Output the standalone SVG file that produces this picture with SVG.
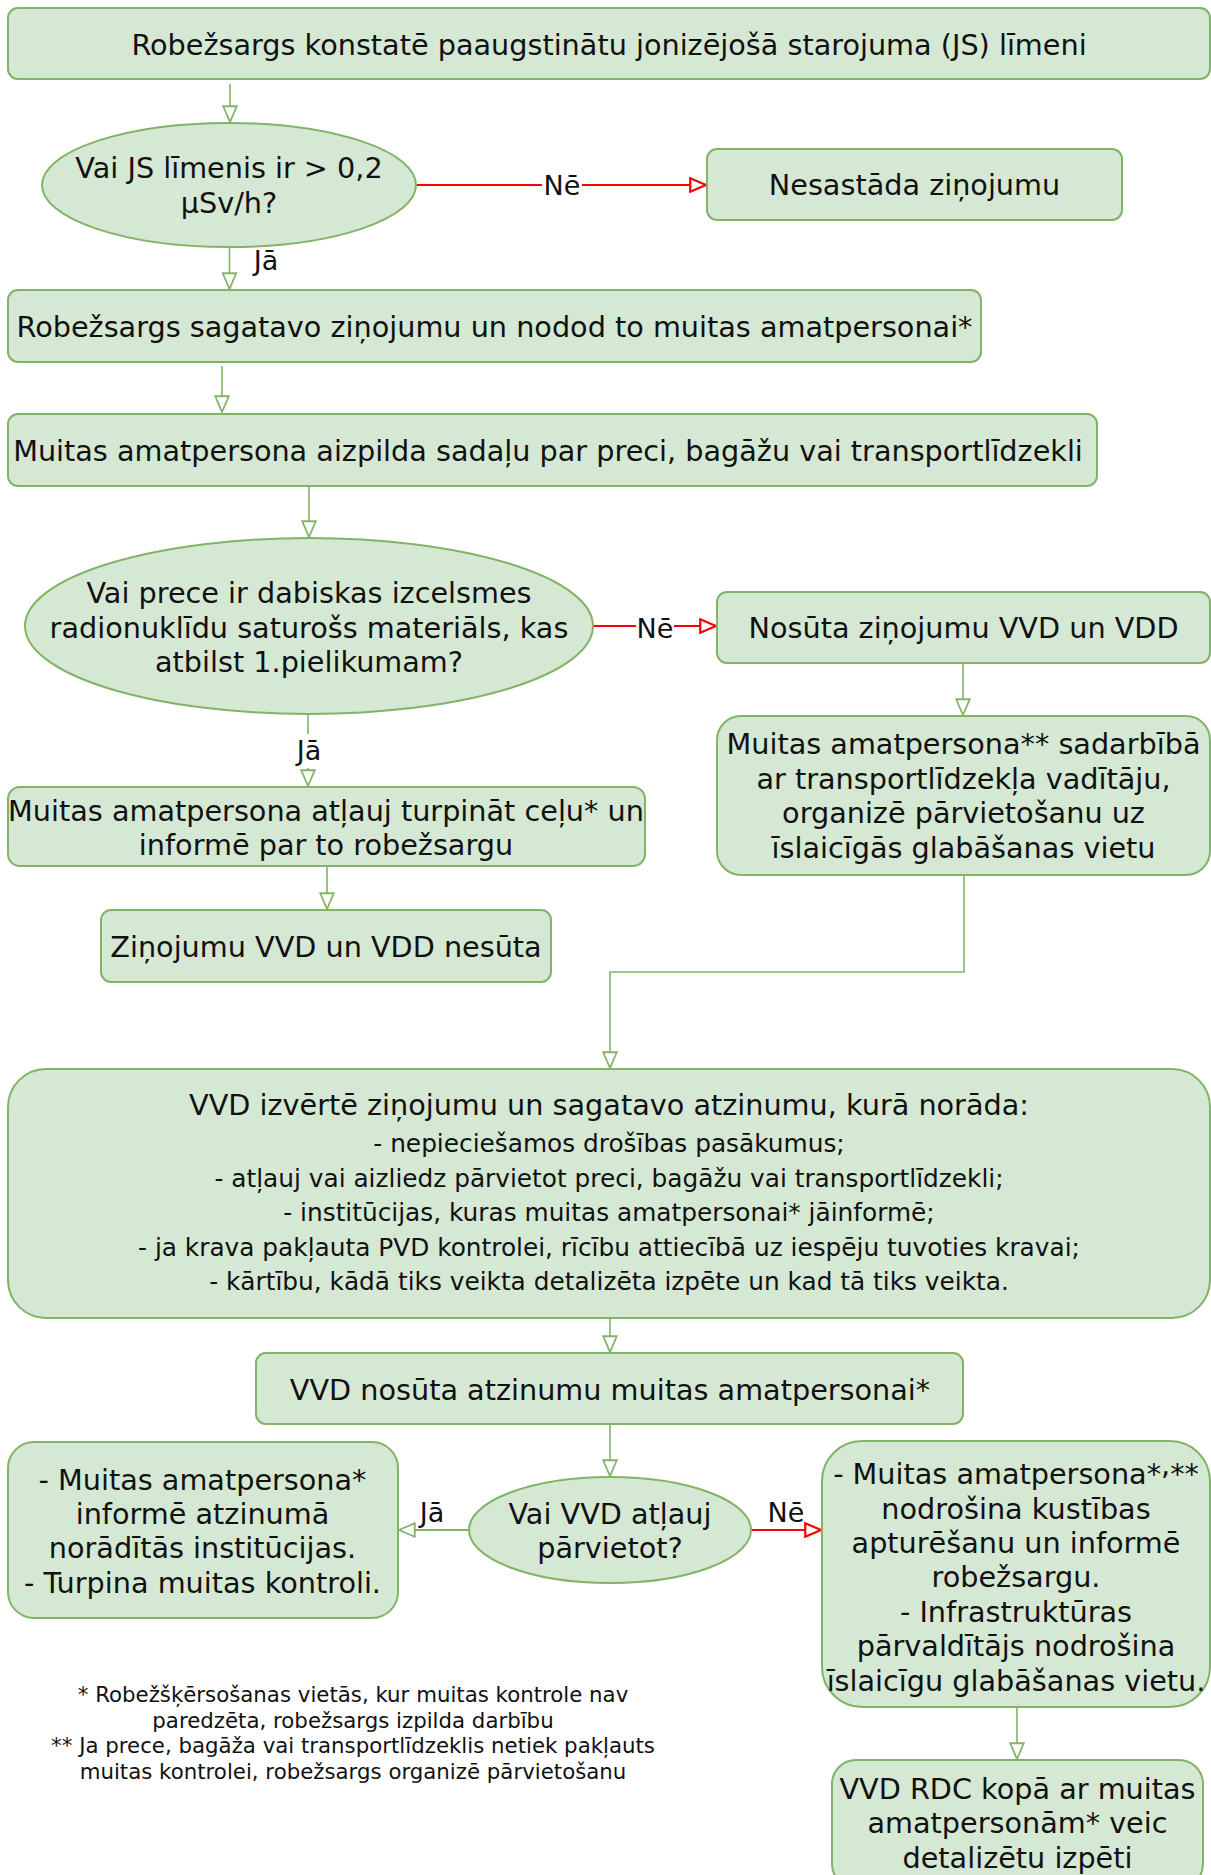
<svg xmlns="http://www.w3.org/2000/svg" width="1211" height="1875" viewBox="0 0 1211 1875">
<style>
.n{fill:#d5e8d4;stroke:#82b366;stroke-width:2}
.t{font-family:"DejaVu Sans",Verdana,sans-serif;font-size:28.7px;fill:#111;text-anchor:middle}
.s{font-size:24.8px}
.f{font-family:"DejaVu Sans",Verdana,sans-serif;font-size:21.3px;fill:#111;text-anchor:middle}
.l{font-family:"DejaVu Sans",Verdana,sans-serif;font-size:27px;fill:#111;text-anchor:middle}
.g{fill:none;stroke:#82b366;stroke-width:1.6}
.r{fill:none;stroke:#ff0000;stroke-width:2}
</style>
<defs>
<marker id="ag" markerUnits="userSpaceOnUse" markerWidth="18" markerHeight="16" viewBox="0 0 16 14" refX="15" refY="7" orient="auto"><path d="M1,1 L15,7 L1,13 z" fill="#fff" stroke="#82b366" stroke-width="1.6"/></marker>
<marker id="ar" markerUnits="userSpaceOnUse" markerWidth="18" markerHeight="16" viewBox="0 0 16 14" refX="15" refY="7" orient="auto"><path d="M1,1 L15,7 L1,13 z" fill="#fff" stroke="#ff0000" stroke-width="2"/></marker>
</defs>
<rect width="1211" height="1875" fill="#fff"/>
<g id="connectors">
<path class="g" d="M230 84 V122" marker-end="url(#ag)"/>
<path class="r" d="M415 185 H706" marker-end="url(#ar)"/>
<path class="g" d="M229.5 247 V289" marker-end="url(#ag)"/>
<path class="g" d="M222 366 V412" marker-end="url(#ag)"/>
<path class="g" d="M309 486 V537" marker-end="url(#ag)"/>
<path class="r" d="M593 626 H716" marker-end="url(#ar)"/>
<path class="g" d="M963 663 V715" marker-end="url(#ag)"/>
<path class="g" d="M308 715 V786" marker-end="url(#ag)"/>
<path class="g" d="M327 866 V909" marker-end="url(#ag)"/>
<path class="g" d="M964 875 V972 H610 V1068" marker-end="url(#ag)"/>
<path class="g" d="M610 1318 V1352" marker-end="url(#ag)"/>
<path class="g" d="M610 1424 V1476" marker-end="url(#ag)"/>
<path class="g" d="M469 1530 H399" marker-end="url(#ag)" style="stroke-width:2"/>
<path class="r" d="M751 1530 H821" marker-end="url(#ar)"/>
<path class="g" d="M1017 1707 V1759" marker-end="url(#ag)"/>
<rect x="542" y="170" width="40" height="32" fill="#fff"/>
<text class="l" x="562" y="195">Nē</text>
<text class="l" x="266" y="270">Jā</text>
<rect x="636" y="612" width="38" height="32" fill="#fff"/>
<text class="l" x="655" y="638">Nē</text>
<rect x="290" y="734" width="38" height="34" fill="#fff"/>
<text class="l" x="309" y="760">Jā</text>
<text class="l" x="432" y="1522">Jā</text>
<text class="l" x="786" y="1522">Nē</text>
</g>
<g id="n1"><rect class="n" x="8" y="8" width="1202" height="71" rx="10"/><text class="t" x="609" y="55">Robežsargs konstatē paaugstinātu jonizējošā starojuma (JS) līmeni</text></g>
<g id="n2"><ellipse class="n" cx="229" cy="185" rx="187" ry="62"/><text class="t" x="229" y="178">Vai JS līmenis ir &gt; 0,2</text><text class="t" x="229" y="213">µSv/h?</text></g>
<g id="n3"><rect class="n" x="707" y="149" width="415" height="71" rx="10"/><text class="t" x="914.5" y="195">Nesastāda ziņojumu</text></g>
<g id="n4"><rect class="n" x="8" y="290" width="973" height="72" rx="10"/><text class="t" x="494.5" y="337">Robežsargs sagatavo ziņojumu un nodod to muitas amatpersonai*</text></g>
<g id="n5"><rect class="n" x="8" y="414" width="1089" height="72" rx="10"/><text class="t" x="548" y="461">Muitas amatpersona aizpilda sadaļu par preci, bagāžu vai transportlīdzekli</text></g>
<g id="n6"><ellipse class="n" cx="309" cy="626" rx="284" ry="88"/><text class="t" x="309" y="603">Vai prece ir dabiskas izcelsmes</text><text class="t" x="309" y="637.5">radionuklīdu saturošs materiāls, kas</text><text class="t" x="309" y="672">atbilst 1.pielikumam?</text></g>
<g id="n7"><rect class="n" x="717" y="592" width="493" height="71" rx="10"/><text class="t" x="963.5" y="638">Nosūta ziņojumu VVD un VDD</text></g>
<g id="n8"><rect class="n" x="717" y="716" width="493" height="159" rx="24"/><text class="t" x="963.5" y="754">Muitas amatpersona** sadarbībā</text><text class="t" x="963.5" y="788.5">ar transportlīdzekļa vadītāju,</text><text class="t" x="963.5" y="823">organizē pārvietošanu uz</text><text class="t" x="963.5" y="857.5">īslaicīgās glabāšanas vietu</text></g>
<g id="n9"><rect class="n" x="8" y="787" width="637" height="79" rx="12"/><text class="t" x="326" y="821">Muitas amatpersona atļauj turpināt ceļu* un</text><text class="t" x="326" y="855">informē par to robežsargu</text></g>
<g id="n10"><rect class="n" x="101" y="910" width="450" height="72" rx="10"/><text class="t" x="326" y="957">Ziņojumu VVD un VDD nesūta</text></g>
<g id="n11"><rect class="n" x="8" y="1069" width="1202" height="249" rx="38"/>
<text class="t" x="609" y="1115">VVD izvērtē ziņojumu un sagatavo atzinumu, kurā norāda:</text>
<text class="t s" x="609" y="1152">- nepieciešamos drošības pasākumus;</text>
<text class="t s" x="609" y="1186.5">- atļauj vai aizliedz pārvietot preci, bagāžu vai transportlīdzekli;</text>
<text class="t s" x="609" y="1221">- institūcijas, kuras muitas amatpersonai* jāinformē;</text>
<text class="t s" x="609" y="1255.5">- ja krava pakļauta PVD kontrolei, rīcību attiecībā uz iespēju tuvoties kravai;</text>
<text class="t s" x="609" y="1290">- kārtību, kādā tiks veikta detalizēta izpēte un kad tā tiks veikta.</text></g>
<g id="n12"><rect class="n" x="256" y="1353" width="707" height="71" rx="10"/><text class="t" x="610" y="1400">VVD nosūta atzinumu muitas amatpersonai*</text></g>
<g id="n13"><ellipse class="n" cx="610" cy="1530" rx="141" ry="53"/><text class="t" x="610" y="1524">Vai VVD atļauj</text><text class="t" x="610" y="1558">pārvietot?</text></g>
<g id="n14"><rect class="n" x="8" y="1442" width="390" height="176" rx="26"/><text class="t" x="202.5" y="1489.5">- Muitas amatpersona*</text><text class="t" x="202.5" y="1524">informē atzinumā</text><text class="t" x="202.5" y="1558">norādītās institūcijas.</text><text class="t" x="202.5" y="1592.5">- Turpina muitas kontroli.</text></g>
<g id="n15"><rect class="n" x="822" y="1441" width="388" height="266" rx="40"/><text class="t" x="1016" y="1484">- Muitas amatpersona*<tspan dy="-9">,</tspan><tspan dy="9">**</tspan></text><text class="t" x="1016" y="1518.5">nodrošina kustības</text><text class="t" x="1016" y="1553">apturēšanu un informē</text><text class="t" x="1016" y="1587">robežsargu.</text><text class="t" x="1016" y="1621.5">- Infrastruktūras</text><text class="t" x="1016" y="1656">pārvaldītājs nodrošina</text><text class="t" x="1016" y="1690.5">īslaicīgu glabāšanas vietu.</text></g>
<g id="n16"><rect class="n" x="832" y="1760" width="371" height="128" rx="24"/><text class="t" x="1017.5" y="1799">VVD RDC kopā ar muitas</text><text class="t" x="1017.5" y="1833">amatpersonām* veic</text><text class="t" x="1017.5" y="1867.5">detalizētu izpēti</text></g>
<g id="notes">
<text class="f" x="353" y="1702">* Robežšķērsošanas vietās, kur muitas kontrole nav</text>
<text class="f" x="353" y="1727.5">paredzēta, robežsargs izpilda darbību</text>
<text class="f" x="353" y="1753">** Ja prece, bagāža vai transportlīdzeklis netiek pakļauts</text>
<text class="f" x="353" y="1778.5">muitas kontrolei, robežsargs organizē pārvietošanu</text>
</g>
</svg>
